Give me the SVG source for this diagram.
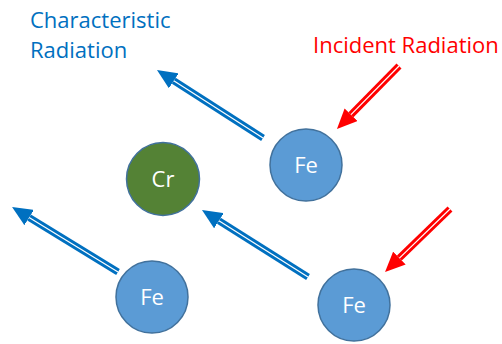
<svg xmlns="http://www.w3.org/2000/svg" width="502" height="344" viewBox="0 0 502 344">
<style>
.fe{fill:#5B9BD5;stroke:#41719C;stroke-width:1.5}
.cr{fill:#548235;stroke:#41719C;stroke-width:1.5}
.nl{font-family:"Open Sans","Liberation Sans",sans-serif;font-size:22px;fill:#fff;text-anchor:middle}
.lb{font-family:"Open Sans","Liberation Sans",sans-serif;font-size:22px}
.bs{stroke:#0070C0;stroke-width:7;fill:none}
.rs{stroke:#FF0000;stroke-width:7;fill:none}
.in{stroke:#fff;stroke-width:1.2;fill:none}
</style>
<defs>
<marker id="bh" markerUnits="userSpaceOnUse" viewBox="0 0 20 18" markerWidth="20" markerHeight="18" refX="0" refY="9" orient="auto"><path d="M0,0 L20,9 L0,18 z" fill="#0070C0"/></marker>
<marker id="rh" markerUnits="userSpaceOnUse" viewBox="0 0 20 18" markerWidth="20" markerHeight="18" refX="0" refY="9" orient="auto"><path d="M0,0 L20,9 L0,18 z" fill="#FF0000"/></marker>
</defs>
<text class="lb" x="30" y="28" fill="#0070C0">Characteristic</text>
<text class="lb" x="30" y="58" fill="#0070C0">Radiation</text>
<text class="lb" x="313" y="53" fill="#FF0000">Incident Radiation</text>
<g id="connectors">
<line class="bs" x1="263" y1="138" x2="173.8" y2="80.8" marker-end="url(#bh)"/>
<line class="in" x1="263" y1="138" x2="173.8" y2="80.8"/>
<line class="bs" x1="118" y1="272" x2="29.1" y2="217.5" marker-end="url(#bh)"/>
<line class="in" x1="118" y1="272" x2="29.1" y2="217.5"/>
<line class="bs" x1="308" y1="277" x2="218.9" y2="220.7" marker-end="url(#bh)"/>
<line class="in" x1="308" y1="277" x2="218.9" y2="220.7"/>
<line class="rs" x1="399" y1="66" x2="351" y2="114.7" marker-end="url(#rh)"/>
<line class="in" x1="399" y1="66" x2="351" y2="114.7"/>
<line class="rs" x1="450" y1="209" x2="399.4" y2="258.1" marker-end="url(#rh)"/>
<line class="in" x1="450" y1="209" x2="399.4" y2="258.1"/>
</g>
<g id="cr"><circle class="cr" cx="163" cy="179" r="36.5"/><text class="nl" x="163" y="187">Cr</text></g>
<g id="fe1"><circle class="fe" cx="306" cy="165" r="36"/><text class="nl" x="306" y="173">Fe</text></g>
<g id="fe2"><circle class="fe" cx="152" cy="297" r="36"/><text class="nl" x="152" y="305">Fe</text></g>
<g id="fe3"><circle class="fe" cx="354" cy="305" r="36"/><text class="nl" x="354" y="313">Fe</text></g>
</svg>
